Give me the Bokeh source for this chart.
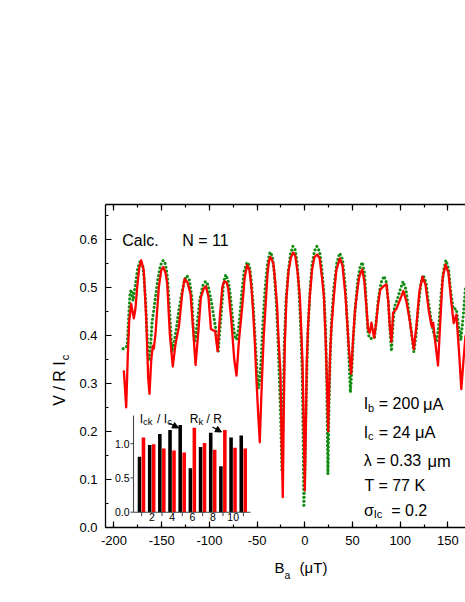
import math
from bokeh.plotting import figure
from bokeh.models import (Range1d, LinearAxis, SingleIntervalTicker, FixedTicker,
                          PrintfTickFormatter, Label, Arrow, NormalHead)
from bokeh.core.properties import value
from bokeh.embed import file_html
from bokeh.resources import INLINE

# ---------------- data ----------------
red_B = [-189.7, -187.2, -185.5, -184, -182, -179.2, -177.5, -175.7, -173.5, -171.5,
         -168.8, -166.3, -164.2, -162.8, -161, -159.3, -158.3, -156.5, -153, -150.5,
         -148.4, -146, -144.2, -141.5, -138.4, -135.5, -132, -128.5, -126.1, -123,
         -119.8, -117, -114.5, -111.5, -109, -106, -103.7, -101, -98.4, -96,
         -94, -91.4, -89, -86.5, -84.5, -82, -80.3, -77, -74, -71.6,
         -69, -65.6, -63, -60.4, -58, -56, -54.5, -52.5, -51, -49,
         -47.2, -46, -44.7, -43, -41.2, -39, -37.5, -36, -33, -31,
         -29, -27.5, -25.5, -24.4, -23.1, -22.0, -21, -19.2, -17, -14.5,
         -12.2, -10, -7.5, -5.2, -3.5, -2.4, -1, 0, 1, 2,
         3.2, 5.2, 7.5, 10, 13, 15.5, 18, 20, 22, 23.5,
         24.5, 25.5, 26.5, 27.7, 30.4, 33, 36.7, 39.5, 42.7, 46.1,
         48.6, 50.5, 52.5, 54.2, 56.7, 58.5, 60.2, 62.5, 64.5, 66.3,
         68, 69.8, 72.6, 74.5, 76.5, 79, 82.5, 85.5, 87.5, 89,
         90.8, 92.5, 96, 99, 103.3, 106.5, 110, 114.2, 117, 120,
         123.3, 126.5, 130, 133, 134.5, 136.5, 139.6, 142, 144.5, 147.5,
         150.5, 153.5, 156, 158.8, 161.5, 164, 166, 168.4]
red_V = [0.327, 0.250, 0.36, 0.43, 0.465, 0.435, 0.455, 0.50, 0.54, 0.556,
         0.535, 0.438, 0.313, 0.278, 0.347, 0.378, 0.372, 0.403, 0.50, 0.535,
         0.542, 0.53, 0.507, 0.403, 0.335, 0.382, 0.417, 0.486, 0.517, 0.51,
         0.486, 0.41, 0.338, 0.41, 0.478, 0.497, 0.502, 0.48, 0.413, 0.41,
         0.409, 0.367, 0.44, 0.50, 0.512, 0.51, 0.498, 0.43, 0.35, 0.316,
         0.39, 0.459, 0.52, 0.546, 0.535, 0.50, 0.459, 0.39, 0.32, 0.24,
         0.177, 0.25, 0.32, 0.40, 0.459, 0.53, 0.555, 0.563, 0.55, 0.51,
         0.459, 0.39, 0.32, 0.19, 0.063, 0.25, 0.38, 0.48, 0.535, 0.562,
         0.572, 0.565, 0.53, 0.48, 0.40, 0.341, 0.20, 0.077, 0.20, 0.341,
         0.41, 0.48, 0.535, 0.562, 0.568, 0.56, 0.52, 0.48, 0.38, 0.28,
         0.20, 0.29, 0.36, 0.41, 0.48, 0.535, 0.56, 0.545, 0.48, 0.375,
         0.32, 0.39, 0.45, 0.48, 0.518, 0.53, 0.537, 0.51, 0.46, 0.412,
         0.405, 0.426, 0.395, 0.42, 0.46, 0.495, 0.502, 0.506, 0.47, 0.42,
         0.386, 0.447, 0.455, 0.47, 0.492, 0.47, 0.43, 0.371, 0.42, 0.49,
         0.522, 0.505, 0.45, 0.418, 0.426, 0.39, 0.337, 0.43, 0.52, 0.547,
         0.53, 0.47, 0.425, 0.443, 0.37, 0.288, 0.34, 0.40]

green_B = [-190.4, -188, -186.2, -185, -184, -183.2, -182, -180, -177.5, -175,
           -172.5, -170, -168.5, -166.8, -165.5, -164.2, -162.8, -161.3, -160, -158.3,
           -156.5, -154.5, -151.5, -148.4, -146, -144, -142.3, -140.8, -139.3, -137.5,
           -135.5, -132, -128.5, -126, -123.5, -121, -118.5, -117, -115.7, -114.6,
           -112.5, -110, -107, -104, -101.5, -99.5, -97.7, -95.5, -93.5, -91.8,
           -90.8, -89.5, -87.2, -85.2, -83, -80.5, -78.5, -76.8, -75, -73.3,
           -71.5, -69.8, -68, -66, -63.5, -60.5, -58, -56, -54, -52,
           -50.2, -48.6, -47, -45.5, -43.8, -41.5, -39, -36.5, -34, -32,
           -30, -28.3, -26.5, -25.2, -24, -22.8, -21.5, -19.8, -17.5, -15,
           -12.5, -10, -8, -6, -4.2, -2.8, -1.8, -1, 0.2, 1.3,
           2.3, 3.5, 5.3, 7.5, 10, 12.6, 15.5, 18, 20, 21.8,
           23, 24.2, 25.2, 26.5, 28, 30.5, 33.5, 36.5, 39.5, 42.5,
           45, 46.8, 47.8, 49.3, 51, 53, 55.5, 58, 60.2, 62.5,
           64.3, 66, 67.5, 70, 73, 74.8, 77, 80, 83, 85.5,
           87.5, 89.3, 90.8, 92.3, 94, 97, 100, 103, 106, 109,
           111.5, 114.3, 116.5, 119, 121.5, 124, 127, 129.5, 132.5, 135,
           138, 140.5, 143, 145.5, 147.8, 150.5, 153, 155.5, 158.8, 161,
           163.5, 166, 168.4]
green_V = [0.372, 0.374, 0.378, 0.42, 0.46, 0.486, 0.495, 0.472, 0.507, 0.54,
           0.555, 0.547, 0.52, 0.47, 0.41, 0.356, 0.347, 0.39, 0.43, 0.452,
           0.48, 0.51, 0.545, 0.556, 0.548, 0.52, 0.47, 0.417, 0.365, 0.38,
           0.403, 0.452, 0.493, 0.515, 0.524, 0.515, 0.48, 0.42, 0.386, 0.39,
           0.43, 0.474, 0.503, 0.512, 0.505, 0.485, 0.467, 0.44, 0.415, 0.38,
           0.367, 0.40, 0.457, 0.51, 0.526, 0.515, 0.49, 0.457, 0.42, 0.398,
           0.391, 0.409, 0.44, 0.49, 0.535, 0.552, 0.545, 0.51, 0.46, 0.39,
           0.33, 0.29, 0.31, 0.36, 0.43, 0.50, 0.55, 0.573, 0.565, 0.53,
           0.47, 0.40, 0.30, 0.22, 0.12, 0.24, 0.38, 0.47, 0.53, 0.57,
           0.585, 0.577, 0.55, 0.49, 0.41, 0.33, 0.20, 0.042, 0.12, 0.25,
           0.34, 0.42, 0.49, 0.545, 0.575, 0.585, 0.574, 0.535, 0.49, 0.41,
           0.30, 0.111, 0.24, 0.35, 0.43, 0.50, 0.55, 0.571, 0.558, 0.50,
           0.41, 0.33, 0.281, 0.33, 0.40, 0.46, 0.515, 0.542, 0.552, 0.53,
           0.47, 0.41, 0.395, 0.393, 0.395, 0.43, 0.475, 0.51, 0.523, 0.51,
           0.47, 0.41, 0.367, 0.42, 0.46, 0.475, 0.495, 0.512, 0.495, 0.45,
           0.41, 0.365, 0.40, 0.46, 0.505, 0.525, 0.51, 0.47, 0.43, 0.405,
           0.386, 0.42, 0.49, 0.535, 0.556, 0.54, 0.49, 0.455, 0.455, 0.42,
           0.39, 0.44, 0.50]

junction = [1, 2, 3, 4, 5, 6, 7, 8, 9, 10, 11]
ick_over_ic = [0.81, 0.98, 1.14, 1.20, 1.27, 0.64, 0.95, 1.16, 0.67, 1.09, 1.12]
rk_over_r = [1.09, 0.99, 0.93, 0.90, 0.87, 1.23, 1.01, 0.91, 1.20, 0.94, 0.93]

inset_y_ticks = [0.0, 0.5, 1.0]
inset_y_labels = ["0.0", "0.5", "1.0"]
inset_x_ticks = [2, 4, 6, 8, 10]
inset_x_labels = ["2", "4", "6", "8", "10"]
inset_minor_x = [1, 3, 5, 7, 9, 11]

# ---------------- layout (page pixels) ----------------
FONT = "Liberation Sans"
W, H = 465, 594
FL, FR, FT, FB = 105, 465, 204, 527          # frame edges on the page
X0, X1 = -208.9, 168.4
Y0, Y1 = 0.0, 0.672


def bx(px):
    return X0 + (px - FL) / (FR - FL) * (X1 - X0)


def vy(py):
    return Y0 + (FB - py) / (FB - FT) * (Y1 - Y0)


IL, IR, IT, IB = 133, 250, 415, 511.7        # inset box on the page
IX0, IX1 = 0.2, 11.7
IY0, IY1 = 0.0, 1.41
isx = (IX1 - IX0) / (IR - IL)
isy = (IY1 - IY0) / (IB - IT)


def ix(px):
    return IX0 + (px - IL) * isx


def iy(py):
    return IY0 + (IB - py) * isy


p = figure(width=W, height=H, x_range=Range1d(X0, X1), y_range=Range1d(Y0, Y1),
           output_backend="svg", toolbar_location=None,
           min_border_left=FL, min_border_right=W - FR,
           min_border_top=FT, min_border_bottom=H - FB,
           outline_line_color=None, background_fill_color="white",
           border_fill_color="white")
p.xgrid.visible = False
p.ygrid.visible = False
p.extra_x_ranges = {"ix": Range1d(ix(FL), ix(FR))}
p.extra_y_ranges = {"iy": Range1d(iy(FB), iy(FT))}


def style_axis(ax):
    ax.axis_line_width = 1.3
    ax.axis_line_color = "black"
    ax.major_tick_in = 6
    ax.major_tick_out = 0
    ax.minor_tick_in = 3
    ax.minor_tick_out = 0
    ax.major_tick_line_width = 1.2
    ax.minor_tick_line_width = 1.2
    ax.major_label_text_font = FONT
    ax.major_label_text_font_size = "13px"
    ax.major_label_text_color = "black"
    ax.major_label_standoff = 8


xa = p.xaxis[0]
xa.ticker = SingleIntervalTicker(interval=50, num_minor_ticks=2)
xa.formatter = PrintfTickFormatter(format="%d")
style_axis(xa)

ya = p.yaxis[0]
ya.ticker = SingleIntervalTicker(interval=0.1, num_minor_ticks=2)
ya.formatter = PrintfTickFormatter(format="%.1f")
style_axis(ya)

top = LinearAxis(ticker=SingleIntervalTicker(interval=50, num_minor_ticks=2))
style_axis(top)
top.major_label_text_color = None
top.major_label_standoff = 0
p.add_layout(top, "above")


# axis titles drawn as tick labels of bare axes (text outside the frame)
def title_axis(side, ticks, labels, size, standoff, orientation="horizontal"):
    ax = LinearAxis(ticker=FixedTicker(ticks=ticks, minor_ticks=[]),
                    major_label_overrides=dict(zip(ticks, labels)),
                    axis_line_color=None, major_tick_line_color=None,
                    minor_tick_line_color=None, major_tick_in=0, major_tick_out=0,
                    minor_tick_in=0, minor_tick_out=0,
                    major_label_text_font=FONT, major_label_text_font_size=f"{size}px",
                    major_label_text_color="black", major_label_standoff=standoff,
                    major_label_orientation=orientation)
    p.add_layout(ax, side)


title_axis("below", [bx(279.0), bx(313.0)], ["B", "(μT)"], 15, 11)
title_axis("below", [bx(286.9)], ["a"], 10.5, -10)
title_axis("left", [vy(357.0)], ["c"], 11, 6, "parallel")
title_axis("left", [vy(383.0)], ["V / R I"], 16, -12, "parallel")

# ---------------- curves ----------------
p.line(green_B, green_V, line_color="#138c13", line_width=3.2, line_dash="0 4",
       line_cap="round")
p.line(red_B, red_V, line_color="#ff0000", line_width=2.3, line_join="round")

# ---------------- inset ----------------
bw = 0.35
p.vbar(x=[j - 0.21 for j in junction], top=ick_over_ic, bottom=0, width=bw,
       fill_color="black", line_color=None, x_range_name="ix", y_range_name="iy")
p.vbar(x=[j + 0.18 for j in junction], top=rk_over_r, bottom=0, width=bw,
       fill_color="#ff0000", line_color=None, x_range_name="ix", y_range_name="iy")
p.segment(x0=[IX0, IX0], y0=[IY0, IY0], x1=[IX0, IX1], y1=[IY1, IY0],
          line_color="#444444", line_width=1.1, x_range_name="ix", y_range_name="iy")
p.segment(x0=[IX0] * 3, y0=inset_y_ticks, x1=[ix(IL - 3)] * 3, y1=inset_y_ticks,
          line_color="#444444", line_width=1, x_range_name="ix", y_range_name="iy")
p.segment(x0=inset_minor_x, y0=[0] * 6, x1=inset_minor_x, y1=[iy(IB + 4)] * 6,
          line_color="#444444", line_width=1, x_range_name="ix", y_range_name="iy")
p.text(x=[IX0] * 3, y=inset_y_ticks, text=inset_y_labels, x_offset=-4,
       text_align="right", text_baseline="middle", text_font=value(FONT),
       text_font_size="10.5px", text_color="black",
       x_range_name="ix", y_range_name="iy")
p.text(x=inset_x_ticks, y=[iy(IB + 1)] * 5, text=inset_x_labels,
       text_align="center", text_baseline="top", text_font=value(FONT),
       text_font_size="10.5px", text_color="black",
       x_range_name="ix", y_range_name="iy")


def ilab(text, px, py, size):
    p.add_layout(Label(x=ix(px), y=iy(py), text=text, text_font=FONT,
                       text_font_size=f"{size}px", text_baseline="alphabetic",
                       text_color="black", x_range_name="ix", y_range_name="iy"))


ilab("I", 139.3, 418.3, 12)
ilab("ck", 142.5, 420.7, 9.5)
ilab("/ I", 156.5, 418.3, 12)
ilab("c", 166.8, 420.7, 9.5)
ilab("R", 189.3, 418.3, 12)
ilab("k", 198.0, 420.7, 9.5)
ilab("/ R", 206.0, 418.3, 12)

for (xs, ys, xe, ye) in [(168.5, 422.5, 178.0, 427.5), (212.0, 426.5, 221.0, 431.5)]:
    p.add_layout(Arrow(x_start=ix(xs), y_start=iy(ys), x_end=ix(xe), y_end=iy(ye),
                       line_width=1.3, line_color="black",
                       end=NormalHead(size=6, fill_color="black", line_color="black"),
                       x_range_name="ix", y_range_name="iy"))


# ---------------- main texts ----------------
def lab(text, px, py, size):
    p.add_layout(Label(x=bx(px), y=vy(py), text=text, text_font=FONT,
                       text_font_size=f"{size}px", text_baseline="alphabetic",
                       text_color="black"))


lab("Calc.", 121.7, 240, 16)
lab("N = 11", 181.7, 240, 16)

lab("I", 363.3, 403.3, 16)
lab("b", 367.5, 407.0, 11)
lab("= 200", 378.3, 403.3, 16)
lab("μA", 422.5, 403.3, 16.5)
lab("I", 363.3, 431.7, 16)
lab("c", 367.5, 435.4, 11)
lab("= 24", 378.3, 431.7, 16)
lab("μA", 414.5, 431.7, 16.5)
lab("λ = 0.33", 363.3, 460, 16)
lab("μm", 427.0, 460, 16.5)
lab("T = 77 K", 364.0, 485, 16)
lab("σ", 363.5, 510, 16)
lab("Ic", 373.3, 513.5, 11)
lab("= 0.2", 390.7, 510, 16)

open("out.html", "w").write(file_html(p, INLINE))
